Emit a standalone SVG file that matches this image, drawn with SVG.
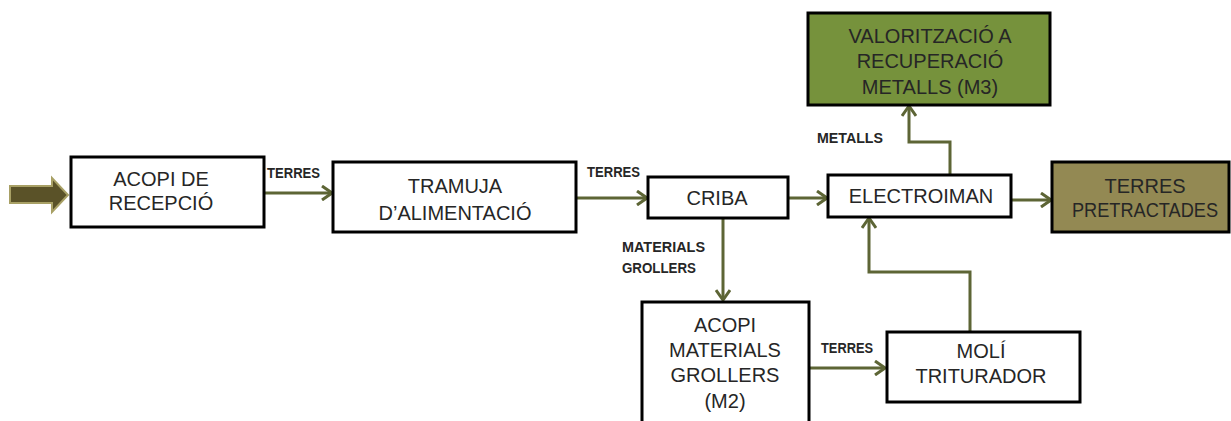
<svg xmlns="http://www.w3.org/2000/svg" width="1231" height="421" viewBox="0 0 1231 421">
<defs>
<style>
.box{fill:#ffffff;stroke:#000000;stroke-width:3}
.green{fill:#76923c}
.olive{fill:#938953}
.t{font-family:"Liberation Sans",Arial,sans-serif;font-size:20px;fill:#262626;text-anchor:middle}
.lbl{font-family:"Liberation Sans",Arial,sans-serif;font-size:14.5px;font-weight:bold;fill:#262626}
.c{fill:none;stroke:#5d6535;stroke-width:3}
</style>
<marker id="ah" viewBox="0 0 12 16" refX="11" refY="8" markerWidth="12" markerHeight="16" markerUnits="userSpaceOnUse" orient="auto">
<path d="M1,1 L11,8 L1,15" fill="none" stroke="#5d6535" stroke-width="3"/>
</marker>
</defs>
<rect width="1231" height="421" fill="#ffffff"/>
<g id="input-arrow">
<path d="M10,186 L52,186 L52,178 L68,195 L52,212 L52,203 L10,203 Z" fill="#5a5228" stroke="#a8a065" stroke-width="2"/>
</g>
<g id="connectors">
<line class="c" x1="264" y1="193" x2="332" y2="193" marker-end="url(#ah)"/>
<line class="c" x1="576" y1="198" x2="647" y2="198" marker-end="url(#ah)"/>
<line class="c" x1="788" y1="198" x2="827" y2="198" marker-end="url(#ah)"/>
<line class="c" x1="1011" y1="200" x2="1051" y2="200" marker-end="url(#ah)"/>
<line class="c" x1="723" y1="218" x2="723" y2="300" marker-end="url(#ah)"/>
<line class="c" x1="809" y1="368" x2="885" y2="368" marker-end="url(#ah)"/>
<polyline class="c" points="970,332 970,272 869,272 869,218" marker-end="url(#ah)"/>
<polyline class="c" points="950,175 950,142 909,142 909,106" marker-end="url(#ah)"/>
<text class="lbl" x="267" y="178" textLength="53" lengthAdjust="spacingAndGlyphs">TERRES</text>
<text class="lbl" x="587" y="177" textLength="53" lengthAdjust="spacingAndGlyphs">TERRES</text>
<text class="lbl" x="622" y="252" textLength="83" lengthAdjust="spacingAndGlyphs">MATERIALS</text>
<text class="lbl" x="622" y="273" textLength="74" lengthAdjust="spacingAndGlyphs">GROLLERS</text>
<text class="lbl" x="817" y="143" textLength="66" lengthAdjust="spacingAndGlyphs">METALLS</text>
<text class="lbl" x="821" y="353" textLength="52" lengthAdjust="spacingAndGlyphs">TERRES</text>
</g>
<g id="acopi-recepcio">
<rect class="box" x="71" y="157" width="193" height="70"/>
<text class="t" x="161" y="186">ACOPI DE</text>
<text class="t" x="161" y="210">RECEPCIÓ</text>
</g>
<g id="tramuja">
<rect class="box" x="333" y="162" width="243" height="70"/>
<text class="t" x="455" y="193">TRAMUJA</text>
<text class="t" x="455" y="220">D’ALIMENTACIÓ</text>
</g>
<g id="criba">
<rect class="box" x="648" y="177" width="140" height="41"/>
<text class="t" x="717" y="205">CRIBA</text>
</g>
<g id="electroiman">
<rect class="box" x="828" y="175" width="183" height="42"/>
<text class="t" x="921" y="203">ELECTROIMAN</text>
</g>
<g id="valoritzacio">
<rect class="box green" x="808" y="13" width="242" height="92"/>
<text class="t" x="930" y="43">VALORITZACIÓ A</text>
<text class="t" x="930" y="68">RECUPERACIÓ</text>
<text class="t" x="930" y="94">METALLS (M3)</text>
</g>
<g id="terres-pretractades">
<rect class="box olive" x="1052" y="162" width="177" height="70"/>
<text class="t" x="1145" y="193">TERRES</text>
<text class="t" x="1145" y="217" textLength="146" lengthAdjust="spacingAndGlyphs">PRETRACTADES</text>
</g>
<g id="acopi-materials">
<rect class="box" x="642" y="302" width="167" height="130"/>
<text class="t" x="725" y="332">ACOPI</text>
<text class="t" x="725" y="357">MATERIALS</text>
<text class="t" x="725" y="382">GROLLERS</text>
<text class="t" x="725" y="408">(M2)</text>
</g>
<g id="moli">
<rect class="box" x="887" y="332" width="193" height="70"/>
<text class="t" x="981" y="358">MOLÍ</text>
<text class="t" x="981" y="383">TRITURADOR</text>
</g>
</svg>
